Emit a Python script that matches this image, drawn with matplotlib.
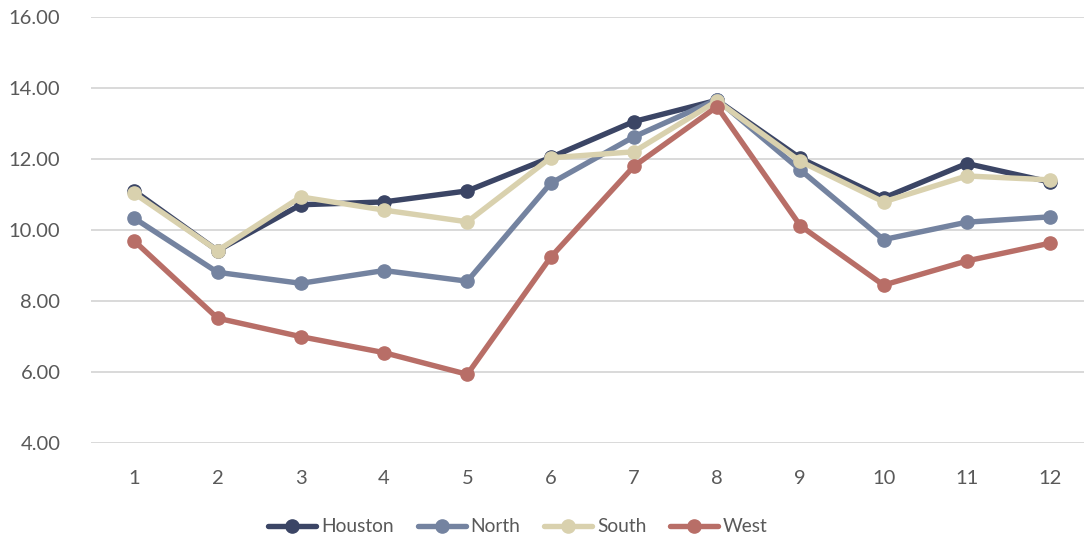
import matplotlib
matplotlib.use("Agg")
import matplotlib.pyplot as plt
from matplotlib.lines import Line2D

months = list(range(1, 13))
houston = [11.10, 9.42, 10.71, 10.79, 11.10, 12.04, 13.05, 13.65, 12.02, 10.90, 11.87, 11.35]
north = [10.33, 8.81, 8.50, 8.86, 8.56, 11.31, 12.62, 13.67, 11.69, 9.73, 10.22, 10.37]
south = [11.03, 9.42, 10.93, 10.56, 10.23, 12.03, 12.20, 13.63, 11.93, 10.79, 11.52, 11.41]
west = [9.69, 7.52, 7.00, 6.55, 5.94, 9.23, 11.79, 13.47, 10.12, 8.45, 9.13, 9.63]
series_names = ["Houston", "North", "South", "West"]
colors = ["#3b4565", "#7483a0", "#d9d1ae", "#b86e67"]
y_ticks = [4, 6, 8, 10, 12, 14, 16]

plt.rcParams["font.family"] = ["Lato", "DejaVu Sans"]

fig = plt.figure(figsize=(10.84, 5.42), dpi=100)
ax = fig.add_axes([91 / 1084, (542 - 443.3) / 542, (1084 - 91) / 1084, (443.3 - 16.7) / 542])

for name, vals, c in zip(series_names, [houston, north, south, west], colors):
    ax.plot(months, vals, color=c, lw=3.9, marker="o", markersize=9.5,
            solid_capstyle="round", label=name, zorder=3)

ax.set_ylim(4, 16)
ax.set_xlim(0.48, 12 + (1084 - 1050) / 83.4)
ax.set_yticks(y_ticks)
ax.set_yticklabels([f"{v:.2f}" for v in y_ticks])
ax.set_xticks(months)
ax.set_xticklabels([str(m) for m in months])
ax.grid(axis="y", color="#d9d9d9", lw=1.4, zorder=0)
ax.set_axisbelow(True)
for s in ax.spines.values():
    s.set_visible(False)
ax.tick_params(axis="both", length=0, labelsize=14.5, colors="#595959")
ax.tick_params(axis="x", pad=19)
ax.tick_params(axis="y", pad=22)

handles = [Line2D([0], [0], color=c, lw=3.9, marker="o", markersize=9.5,
                  solid_capstyle="round") for c in colors]
fig.legend(handles, series_names, loc="center", bbox_to_anchor=(518 / 1084, 1 - 527 / 542),
           ncol=4, frameon=False, fontsize=13.8, labelcolor="#595959",
           handlelength=2.5, handletextpad=0.25, columnspacing=1.25)

fig.savefig("out.png", dpi=100)
